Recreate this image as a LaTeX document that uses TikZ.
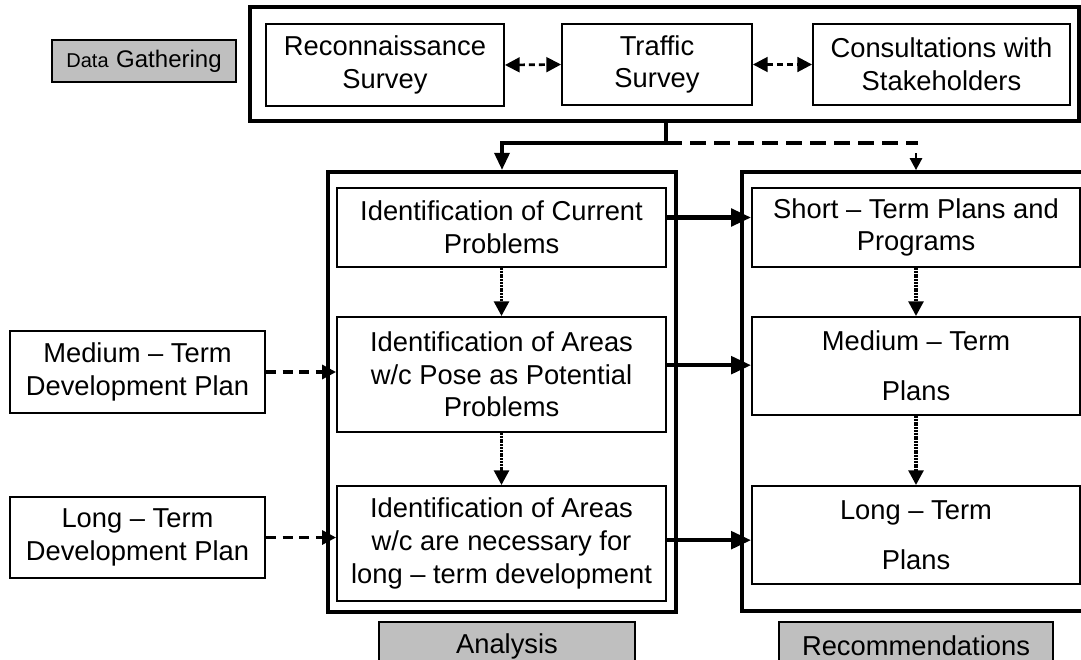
\documentclass[tikz,border=0pt]{standalone}
\usepackage{fontspec}
\setmainfont{Liberation Sans}
\usetikzlibrary{arrows.meta}

\tikzset{
  box/.style={draw, line width=1.4pt, inner sep=0pt, align=center,
    font=\fontsize{20.5}{24.5}\selectfont},
  frame/.style={draw, line width=2.8pt, inner sep=0pt},
  tag/.style={box, fill=black!25, line width=1.1pt},
  feedline/.style={line width=3.2pt},
  solidarr/.style={line width=3.2pt, -{Triangle[length=15pt,width=13pt]}},
  dasharr/.style={line width=2.4pt, dash pattern=on 7.5pt off 5pt,
    -{Triangle[length=10.5pt,width=10.5pt]}},
  twoway/.style={line width=2pt, dash pattern=on 4.5pt off 3pt,
    {Triangle[length=11pt,width=11pt]}-{Triangle[length=11pt,width=11pt]}},
  dotarr/.style={line width=2.5pt, dash pattern=on 1.5pt off 0.6pt,
    -{Triangle[length=11pt,width=11pt]}}
}

\begin{document}
\begin{tikzpicture}
\begin{scope}[x=0.75pt, y=-0.75pt]
  \useasboundingbox (0,0) rectangle (1081,660);
  \clip (0,0) rectangle (1081,660);
  % Data gathering
  \node[tag, minimum width=138pt, minimum height=31.5pt] (dg) at (144,61)
    {{\fontsize{15}{18}\selectfont Data} \fontsize{18}{22}\selectfont Gathering};
  \node[frame, line width=3.2pt, minimum width=621.75pt, minimum height=85.5pt] (top) at (664.5,64) {};
  \node[box, minimum width=178.5pt, minimum height=61.5pt] (recon) at (385,65) {Reconnaissance\\Survey};
  \node[box, minimum width=142.5pt, minimum height=60.75pt] (traffic) at (657,64.5) {Traffic\\Survey};
  \node[box, minimum width=192.75pt, minimum height=60.75pt] (consult) at (941.5,64.5) {Consultations with\\Stakeholders};
  \draw[twoway] (recon.east) -- (traffic.west);
  \draw[twoway] (traffic.east) -- (consult.west);
  % Analysis column
  \node[frame, minimum width=261pt, minimum height=330pt] (anaframe) at (502,392) {};
  \node[box, minimum width=246.75pt, minimum height=59.25pt] (cur) at (501.5,227.5) {Identification of Current\\Problems};
  \node[box, minimum width=246.75pt, minimum height=86.25pt] (pot) at (501.5,374.5) {Identification of Areas\\w/c Pose as Potential\\Problems};
  \node[box, minimum width=246.75pt, minimum height=86.25pt] (nec) at (501.5,543.5) {Identification of Areas\\w/c are necessary for\\long -- term development};
  \node[tag, minimum width=192pt, minimum height=36pt] (ana) at (507,646) {Analysis};
  % Recommendations column
  \node[frame, minimum width=261pt, minimum height=329.25pt] (recframe) at (916,391.5) {};
  \node[box, minimum width=246pt, minimum height=59.25pt] (short) at (916,227.5) {Short -- Term Plans and\\Programs};
  \node[box, minimum width=246pt, minimum height=73.5pt] (medplan) at (916,366) {Medium -- Term\\[13pt]Plans};
  \node[box, minimum width=246pt, minimum height=73.5pt] (longplan) at (916,535) {Long -- Term\\[13pt]Plans};
  \node[tag, minimum width=205.5pt, minimum height=36pt] (rec) at (916,646) {Recommendations};
  % Development plans
  \node[box, minimum width=191.25pt, minimum height=61.5pt] (meddev) at (137.5,372) {Medium -- Term\\Development Plan};
  \node[box, minimum width=191.25pt, minimum height=60.75pt] (longdev) at (137.5,537.5) {Long -- Term\\Development Plan};
  % Feed from data gathering
  \coordinate (split) at (666,143);
  \coordinate (dashend) at (918,143);
  \draw[feedline] (top.south -| split) -- (split);
  \draw[feedline, -{Triangle[length=13pt,width=11pt]}] (split) -| (anaframe.north);
  \draw[feedline, dash pattern=on 12pt off 6pt] (split) -- (dashend);
  \draw[line width=2pt, -{Triangle[length=9pt,width=9pt]}]
    ([yshift=12.75pt]recframe.north) -- (recframe.north);
  % Arrows
  \draw[dotarr] (cur) -- (pot);
  \draw[dotarr] (pot) -- (nec);
  \draw[dotarr] (short) -- (medplan);
  \draw[dotarr] (medplan) -- (longplan);
  \draw[solidarr] ([yshift=7.5pt]cur.east) -- ([yshift=7.5pt]cur.east -| short.west);
  \draw[solidarr] ([yshift=7pt]pot.east) -- ([yshift=7pt]pot.east -| medplan.west);
  \draw[solidarr] ([yshift=2.5pt]nec.east) -- ([yshift=2.5pt]nec.east -| longplan.west);
  \draw[dasharr] (meddev.east) -- (meddev.east -| pot.west);
  \draw[dasharr] (longdev.east) -- (longdev.east -| nec.west);
\end{scope}
\end{tikzpicture}
\end{document}
